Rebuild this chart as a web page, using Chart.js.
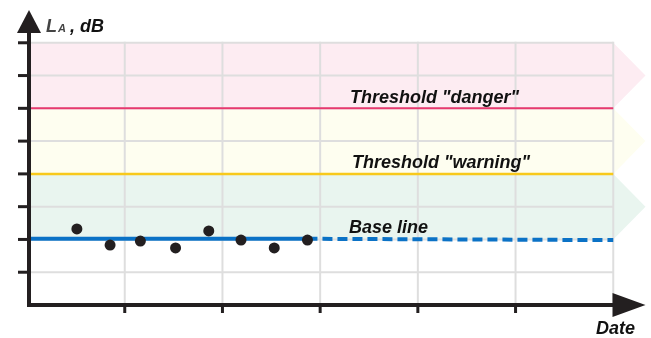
<!DOCTYPE html>
<html>
<head>
<meta charset="utf-8">
<script src="https://cdn.jsdelivr.net/npm/chart.js@4.4.0/dist/chart.umd.min.js"></script>
<style>
  body { margin: 0; background: #fff; }
  canvas { display: block; }
</style>
</head>
<body>
<canvas id="noiseChart" width="651" height="338"></canvas>
<script>
// Noise level vs date, with threshold zones

// axis ranges (in grid units)
const xMin = 0.02;
const xMax = 6.33;
const yMin = 0;
const yMax = 9;

// tick and grid positions
const dateTicks = [1, 2, 3, 4, 5];
const dateGrid = [1, 2, 3, 4, 5, 6];
const levelTicks = [1, 2, 3, 4, 5, 6, 7, 8];
const gridTop = 8;
const gridRight = 6;

// measured points
const measureX = [0.51, 0.85, 1.16, 1.52, 1.86, 2.19, 2.53, 2.87];
const measureY = [2.32, 1.83, 1.95, 1.74, 2.26, 1.98, 1.74, 1.98];

// levels
const baseLevel = 2.02;
const baseLevelEnd = 1.98;
const warningLevel = 4;
const dangerLevel = 6;

// zones: [low, high]
const zoneLow = [2, 4, 6];
const zoneHigh = [4, 6, 8];

const zoneColors = ["#e9f5ef", "#fefef0", "#fdecf2"];
const axisColor = "#231f20";
const gridColor = "#dedede";

const points = measureX.map((x, i) => ({ x: x, y: measureY[i] }));
const lastX = measureX[measureX.length - 1];

const noisePlugin = {
    id: "noisePlugin",
    beforeDatasetsDraw(chart) {
        const ctx = chart.ctx;
        const xs = chart.scales.x;
        const ys = chart.scales.y;

        // zones with arrow shaped ends
        zoneLow.forEach((low, i) => {
            const high = zoneHigh[i];
            ctx.fillStyle = zoneColors[i];
            ctx.beginPath();
            ctx.moveTo(xs.getPixelForValue(xMin), ys.getPixelForValue(high));
            ctx.lineTo(xs.getPixelForValue(gridRight), ys.getPixelForValue(high));
            ctx.lineTo(xs.getPixelForValue(xMax), ys.getPixelForValue((low + high) / 2));
            ctx.lineTo(xs.getPixelForValue(gridRight), ys.getPixelForValue(low));
            ctx.lineTo(xs.getPixelForValue(xMin), ys.getPixelForValue(low));
            ctx.closePath();
            ctx.fill();
        });

        // grid
        ctx.strokeStyle = gridColor;
        ctx.lineWidth = 2;
        levelTicks.forEach(v => {
            const py = ys.getPixelForValue(v);
            ctx.beginPath();
            ctx.moveTo(xs.getPixelForValue(xMin), py);
            ctx.lineTo(xs.getPixelForValue(gridRight), py);
            ctx.stroke();
        });
        dateGrid.forEach(v => {
            const px = xs.getPixelForValue(v);
            ctx.beginPath();
            ctx.moveTo(px, ys.getPixelForValue(gridTop) - 1);
            ctx.lineTo(px, ys.getPixelForValue(yMin));
            ctx.stroke();
        });
    },
    afterDatasetsDraw(chart) {
        const ctx = chart.ctx;
        const xs = chart.scales.x;
        const ys = chart.scales.y;
        const x0 = xs.getPixelForValue(xMin);
        const y0 = ys.getPixelForValue(yMin);
        const yTop = ys.getPixelForValue(yMax);
        const xEnd = xs.getPixelForValue(xMax);

        ctx.fillStyle = axisColor;
        ctx.strokeStyle = axisColor;

        // ticks
        ctx.lineWidth = 3;
        levelTicks.forEach(v => {
            const py = ys.getPixelForValue(v);
            ctx.beginPath();
            ctx.moveTo(x0 - 11, py);
            ctx.lineTo(x0, py);
            ctx.stroke();
        });
        dateTicks.forEach(v => {
            const px = xs.getPixelForValue(v);
            ctx.beginPath();
            ctx.moveTo(px, y0);
            ctx.lineTo(px, y0 + 8);
            ctx.stroke();
        });

        // axes
        ctx.lineWidth = 4;
        ctx.lineCap = "square";
        ctx.beginPath();
        ctx.moveTo(x0, yTop + 20);
        ctx.lineTo(x0, y0);
        ctx.lineTo(xEnd - 30, y0);
        ctx.stroke();
        ctx.lineCap = "butt";

        // arrow heads
        ctx.beginPath();
        ctx.moveTo(x0, yTop);
        ctx.lineTo(x0 + 12, yTop + 23);
        ctx.lineTo(x0 - 12, yTop + 23);
        ctx.closePath();
        ctx.fill();
        ctx.beginPath();
        ctx.moveTo(xEnd, y0);
        ctx.lineTo(xEnd - 33, y0 - 12);
        ctx.lineTo(xEnd - 33, y0 + 12);
        ctx.closePath();
        ctx.fill();

        // labels
        ctx.textBaseline = "alphabetic";
        ctx.textAlign = "left";
        ctx.fillStyle = "#111";
        ctx.font = "italic bold 18px 'Liberation Sans', Arial, sans-serif";
        ctx.fillText('Threshold "danger"', 350, ys.getPixelForValue(dangerLevel) - 5);
        ctx.fillText('Threshold "warning"', 352, ys.getPixelForValue(warningLevel) - 6);
        ctx.fillText("Base line", 349, ys.getPixelForValue(baseLevel) - 6);
        ctx.fillText("Date", 596, 334);

        // axis title L_A, dB
        ctx.fillStyle = "#444";
        ctx.font = "italic bold 18px 'Liberation Sans', Arial, sans-serif";
        ctx.fillText("L", 46, 32);
        ctx.font = "italic bold 11px 'Liberation Sans', Arial, sans-serif";
        ctx.fillText("A", 58, 32);
        ctx.fillStyle = "#111";
        ctx.font = "italic bold 18px 'Liberation Sans', Arial, sans-serif";
        ctx.fillText(", dB", 70, 32);
    }
};

new Chart(document.getElementById("noiseChart"), {
    type: "scatter",
    data: {
        datasets: [
            {
                label: "Measurements",
                data: points,
                pointRadius: 5.5,
                pointBackgroundColor: axisColor,
                pointBorderWidth: 0,
                showLine: false
            },
            {
                label: "Base line",
                data: [{ x: xMin, y: baseLevel }, { x: lastX, y: baseLevel }],
                showLine: true,
                borderColor: "#0b72c6",
                borderWidth: 4,
                pointRadius: 0
            },
            {
                label: "Base line forecast",
                data: [{ x: lastX, y: baseLevel }, { x: gridRight, y: baseLevelEnd }],
                showLine: true,
                borderColor: "#0b72c6",
                borderWidth: 4,
                borderDash: [10, 5],
                pointRadius: 0
            },
            {
                label: "Threshold warning",
                data: [{ x: xMin, y: warningLevel }, { x: gridRight, y: warningLevel }],
                showLine: true,
                borderColor: "#f8c91b",
                borderWidth: 2.5,
                pointRadius: 0
            },
            {
                label: "Threshold danger",
                data: [{ x: xMin, y: dangerLevel }, { x: gridRight, y: dangerLevel }],
                showLine: true,
                borderColor: "#e8386f",
                borderWidth: 2,
                pointRadius: 0
            }
        ]
    },
    options: {
        responsive: false,
        animation: false,
        layout: { padding: { left: 29, right: 4, top: 10, bottom: 33 } },
        scales: {
            x: { type: "linear", min: xMin, max: xMax, display: false },
            y: { type: "linear", min: yMin, max: yMax, display: false }
        },
        plugins: {
            legend: { display: false },
            tooltip: { enabled: false }
        }
    },
    plugins: [noisePlugin]
});
</script>
</body>
</html>
